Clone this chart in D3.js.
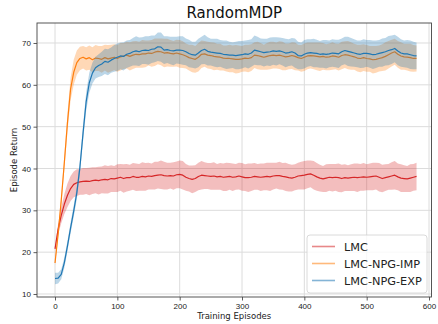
<!DOCTYPE html>
<html>
<head>
<meta charset="utf-8">
<script src="https://cdn.jsdelivr.net/npm/d3@7"></script>
<style>
  body { margin: 0; background: #fff; }
  svg { display: block; font-family: "DejaVu Sans", sans-serif; }
  .grid line { stroke: #dcdcdc; stroke-width: 1; }
  .axis path { display: none; }
  .axis line { stroke: #333; stroke-width: 0.8; }
  .axis text { fill: #222; font-size: 8px; }
</style>
</head>
<body>
<div id="chart"></div>
<script>
// training episodes, one sample every 5 episodes
var episodes = d3.range(0, 581, 5);

var lmcMean = [
  20.8, 25.5, 28.8, 31.5, 33.6, 35.2, 36.2, 36.6, 36.8, 36.9,
  37.0, 36.9, 37.1, 37.2, 37.1, 37.3, 37.4, 37.3, 37.6, 37.5,
  37.7, 37.9, 37.6, 37.8, 37.8, 38.1, 37.9, 37.9, 38.1, 38.0,
  38.2, 38.1, 38.3, 38.4, 38.5, 38.3, 38.2, 38.3, 38.2, 38.5,
  38.6, 38.4, 37.9, 37.6, 37.4, 37.6, 38.1, 38.4, 38.3, 38.2,
  38.1, 38.2, 38.0, 38.1, 37.9, 38.0, 38.1, 37.9, 38.0, 38.2,
  38.0, 37.8, 37.8, 37.9, 38.1, 38.0, 37.9, 38.0, 38.1, 38.0,
  38.2, 38.3, 38.3, 38.1, 38.0, 37.8, 37.7, 37.9, 38.2, 38.3,
  38.4, 38.6, 38.7, 38.4, 38.0, 37.7, 37.5, 37.7, 37.9, 37.8,
  37.9, 37.8, 37.6, 37.8, 37.7, 37.8, 37.9, 37.8, 37.9, 38.0,
  37.9, 38.0, 38.1, 38.2, 37.9, 37.6, 37.8, 38.0, 38.2, 38.4,
  38.0, 37.7, 37.6, 37.5, 37.7, 37.9, 38.1
];
var lmcStd = [
  0.4, 1.3, 1.9, 2.4, 2.8, 3.0, 3.1, 3.2, 3.1, 3.2,
  3.1, 3.3, 3.2, 3.1, 3.3, 3.2, 3.4, 3.3, 3.2, 3.1,
  3.3, 3.2, 3.4, 3.3, 3.1, 3.2, 3.3, 3.2, 3.4, 3.3,
  3.2, 3.1, 3.3, 3.2, 3.4, 3.3, 3.2, 3.1, 3.3, 3.2,
  3.3, 3.4, 3.2, 3.1, 3.3, 3.2, 3.3, 3.4, 3.2, 3.1,
  3.2, 3.3, 3.1, 3.2, 3.3, 3.4, 3.2, 3.3, 3.1, 3.2,
  3.3, 3.2, 3.4, 3.3, 3.2, 3.1, 3.3, 3.2, 3.3, 3.4,
  3.2, 3.1, 3.3, 3.2, 3.4, 3.3, 3.2, 3.1, 3.2, 3.3,
  3.4, 3.3, 3.2, 3.4, 3.3, 3.2, 3.1, 3.3, 3.2, 3.3,
  3.2, 3.4, 3.3, 3.2, 3.1, 3.2, 3.3, 3.4, 3.2, 3.3,
  3.1, 3.2, 3.3, 3.2, 3.4, 3.3, 3.2, 3.1, 3.3, 3.4,
  3.2, 3.3, 3.2, 3.1, 3.3, 3.2, 3.3
];

var impMean = [
  17.4, 24.3, 32.4, 41.5, 51.0, 59.0, 63.0, 65.3, 66.3, 66.6,
  66.2, 66.5, 66.0, 66.4, 66.3, 66.1, 66.5, 66.2, 66.4, 66.6,
  66.3, 66.7, 66.9, 67.1, 66.8, 67.1, 67.3, 67.2, 67.4, 67.4,
  67.6, 67.5, 67.8, 68.0, 67.9, 67.6, 67.7, 67.5, 67.4, 67.6,
  67.4, 67.2, 66.9, 66.5, 66.3, 66.1, 66.6, 67.3, 67.4, 67.1,
  67.0, 66.8, 66.7, 66.6, 66.4, 66.3, 66.3, 66.2, 66.1, 66.1,
  66.2, 66.4, 66.3, 66.5, 67.1, 67.0, 66.8, 66.6, 66.8, 67.0,
  67.1, 67.0, 67.1, 66.9, 66.7, 66.8, 67.0, 66.8, 66.5, 66.3,
  66.6, 66.9, 67.0, 66.9, 66.8, 66.7, 66.8, 66.6, 66.7, 66.9,
  66.8, 66.6, 67.0, 67.2, 67.1, 66.9, 66.7, 66.4, 66.3, 66.5,
  66.3, 66.2, 66.0, 66.1, 66.3, 66.5, 66.8, 67.2, 67.6, 67.9,
  67.3, 66.9, 66.7, 66.6, 66.5, 66.3, 66.3
];
var impStd = [
  0.6, 0.9, 1.3, 1.7, 2.2, 2.7, 3.0, 2.9, 2.8, 2.7,
  2.8, 2.9, 3.0, 3.1, 3.0, 3.2, 3.1, 3.3, 3.2, 3.1,
  3.2, 3.3, 3.1, 3.2, 3.4, 3.3, 3.2, 3.1, 3.3, 3.2,
  3.0, 3.2, 3.3, 3.1, 3.2, 3.4, 3.3, 3.2, 3.1, 3.2,
  3.3, 3.2, 3.0, 3.1, 3.3, 3.2, 3.4, 3.3, 3.1, 3.2,
  3.2, 3.3, 3.1, 3.2, 3.0, 3.1, 3.3, 3.2, 3.4, 3.3,
  3.1, 3.2, 3.3, 3.2, 3.1, 3.3, 3.2, 3.0, 3.2, 3.3,
  3.2, 3.1, 3.3, 3.4, 3.2, 3.1, 3.2, 3.3, 3.1, 3.2,
  3.3, 3.2, 3.1, 3.2, 3.3, 3.4, 3.2, 3.1, 3.2, 3.3,
  3.1, 3.2, 3.3, 3.2, 3.4, 3.3, 3.1, 3.2, 3.3, 3.2,
  3.2, 3.1, 3.3, 3.2, 3.1, 3.2, 3.4, 3.3, 3.2, 3.1,
  3.2, 3.3, 3.1, 3.2, 3.3, 3.2, 3.1
];

var expMean = [
  13.7, 13.8, 14.7, 17.5, 21.5, 25.8, 29.8, 34.2, 40.4, 48.5,
  56.0, 60.5, 62.8, 64.1, 64.6, 65.0, 65.6, 65.4, 65.9, 66.3,
  66.6, 66.9, 66.8, 67.3, 67.5, 67.9, 68.1, 67.9, 68.2, 68.3,
  68.2, 68.5, 68.6, 69.1, 69.0, 68.3, 68.4, 68.2, 68.1, 68.3,
  68.3, 68.2, 67.9, 67.5, 67.2, 67.1, 67.6, 68.2, 68.5, 68.0,
  67.8, 67.7, 67.6, 67.5, 67.3, 67.2, 67.1, 67.1, 67.0, 67.1,
  67.2, 67.4, 67.3, 67.6, 68.3, 68.1, 67.9, 67.7, 67.8, 67.9,
  68.1, 68.0, 68.1, 67.9, 67.6, 67.7, 67.9, 67.6, 67.0, 66.9,
  67.3, 67.6, 67.7, 67.6, 67.5, 67.3, 67.4, 67.3, 67.4, 67.6,
  67.5, 67.4, 67.9, 68.2, 68.0, 67.8, 67.6, 67.4, 67.3, 67.5,
  67.5, 67.4, 67.2, 67.3, 67.5, 67.7, 67.9, 68.2, 68.4, 68.7,
  68.1, 67.6, 67.4, 67.4, 67.2, 67.0, 66.9
];
var expStd = [
  1.4, 1.3, 1.2, 1.2, 1.2, 1.3, 1.4, 1.5, 1.6, 1.9,
  2.2, 2.4, 2.5, 2.6, 2.7, 2.9, 3.0, 3.1, 3.0, 3.2,
  3.3, 3.2, 3.4, 3.3, 3.2, 3.3, 3.5, 3.4, 3.2, 3.3,
  3.4, 3.3, 3.2, 3.4, 3.5, 3.3, 3.2, 3.3, 3.4, 3.2,
  3.3, 3.4, 3.2, 3.3, 3.1, 3.2, 3.4, 3.3, 3.5, 3.4,
  3.2, 3.3, 3.4, 3.2, 3.3, 3.4, 3.2, 3.1, 3.3, 3.4,
  3.3, 3.2, 3.4, 3.3, 3.5, 3.4, 3.2, 3.3, 3.2, 3.4,
  3.3, 3.4, 3.2, 3.3, 3.4, 3.2, 3.3, 3.5, 3.3, 3.2,
  3.4, 3.3, 3.2, 3.4, 3.3, 3.2, 3.3, 3.4, 3.2, 3.3,
  3.3, 3.4, 3.2, 3.3, 3.5, 3.4, 3.3, 3.2, 3.3, 3.4,
  3.2, 3.3, 3.4, 3.3, 3.2, 3.4, 3.3, 3.5, 3.4, 3.3,
  3.4, 3.3, 3.2, 3.3, 3.4, 3.3, 3.2
];

var seriesNames = ["LMC", "LMC-NPG-IMP", "LMC-NPG-EXP"];
var xTicks = [0, 100, 200, 300, 400, 500, 600];
var yTicks = [10, 20, 30, 40, 50, 60, 70];

var series = [
  { name: seriesNames[0], mean: lmcMean, std: lmcStd, color: "#d62728" },
  { name: seriesNames[1], mean: impMean, std: impStd, color: "#ff7f0e" },
  { name: seriesNames[2], mean: expMean, std: expStd, color: "#1f77b4" }
];

var width = 438, height = 324;
var box = { left: 37, right: 431.5, top: 23, bottom: 297 };

var x = d3.scaleLinear().domain([-28.9, 604]).range([box.left, box.right]);
var y = d3.scaleLinear().domain([9.28, 74.78]).range([box.bottom, box.top]);

var svg = d3.select("#chart").append("svg")
  .attr("width", width)
  .attr("height", height);

svg.append("defs").append("clipPath").attr("id", "plotclip")
  .append("rect")
  .attr("x", box.left).attr("y", box.top)
  .attr("width", box.right - box.left)
  .attr("height", box.bottom - box.top);

// grid
var grid = svg.append("g").attr("class", "grid");
grid.selectAll("line.gx").data(xTicks).enter().append("line")
  .attr("x1", function(d) { return x(d); })
  .attr("x2", function(d) { return x(d); })
  .attr("y1", box.top).attr("y2", box.bottom);
grid.selectAll("line.gy").data(yTicks).enter().append("line")
  .attr("x1", box.left).attr("x2", box.right)
  .attr("y1", function(d) { return y(d); })
  .attr("y2", function(d) { return y(d); });

var plot = svg.append("g").attr("clip-path", "url(#plotclip)");

series.forEach(function(s) {
  var area = d3.area()
    .x(function(d, i) { return x(episodes[i]); })
    .y0(function(d, i) { return y(s.mean[i] - s.std[i]); })
    .y1(function(d, i) { return y(s.mean[i] + s.std[i]); });
  var line = d3.line()
    .x(function(d, i) { return x(episodes[i]); })
    .y(function(d, i) { return y(s.mean[i]); });

  plot.append("path")
    .datum(s.mean)
    .attr("d", area)
    .attr("fill", s.color)
    .attr("fill-opacity", 0.3)
    .attr("stroke", "none");
  plot.append("path")
    .datum(s.mean)
    .attr("d", line)
    .attr("fill", "none")
    .attr("stroke", s.color)
    .attr("stroke-width", 1.2)
    .attr("stroke-linejoin", "round");
});

// axes
svg.append("g")
  .attr("class", "axis")
  .attr("transform", "translate(0," + box.bottom + ")")
  .call(d3.axisBottom(x).tickValues(xTicks).tickSize(3.5).tickPadding(2.5)
    .tickFormat(d3.format("d")));
svg.append("g")
  .attr("class", "axis")
  .attr("transform", "translate(" + box.left + ",0)")
  .call(d3.axisLeft(y).tickValues(yTicks).tickSize(3.5).tickPadding(2.5)
    .tickFormat(d3.format("d")));

svg.append("rect")
  .attr("x", box.left).attr("y", box.top)
  .attr("width", box.right - box.left)
  .attr("height", box.bottom - box.top)
  .attr("fill", "none")
  .attr("stroke", "#444")
  .attr("stroke-width", 0.9);

// labels
svg.append("text")
  .attr("x", (box.left + box.right) / 2)
  .attr("y", 18)
  .attr("text-anchor", "middle")
  .attr("font-size", 15)
  .attr("fill", "#111")
  .text("RandomMDP");

svg.append("text")
  .attr("x", (box.left + box.right) / 2)
  .attr("y", 319)
  .attr("text-anchor", "middle")
  .attr("font-size", 8.5)
  .attr("fill", "#222")
  .text("Training Episodes");

svg.append("text")
  .attr("transform", "translate(17," + ((box.top + box.bottom) / 2) + ") rotate(-90)")
  .attr("text-anchor", "middle")
  .attr("font-size", 8.5)
  .attr("fill", "#222")
  .text("Episode Return");

// legend
var legend = svg.append("g").attr("transform", "translate(307,235)");
legend.append("rect")
  .attr("width", 120).attr("height", 58)
  .attr("rx", 3).attr("ry", 3)
  .attr("fill", "#fff").attr("fill-opacity", 0.8)
  .attr("stroke", "#d0d0d0").attr("stroke-width", 0.8);

var item = legend.selectAll("g.item").data(series).enter().append("g")
  .attr("transform", function(d, i) { return "translate(0," + (11.5 + i * 17) + ")"; });
item.append("line")
  .attr("x1", 5).attr("x2", 28)
  .attr("stroke", function(d) { return d.color; })
  .attr("stroke-opacity", 0.55)
  .attr("stroke-width", 1.6);
item.append("text")
  .attr("x", 37).attr("y", 4)
  .attr("font-size", 11.3)
  .attr("fill", "#222")
  .text(function(d) { return d.name; });
</script>
</body>
</html>
